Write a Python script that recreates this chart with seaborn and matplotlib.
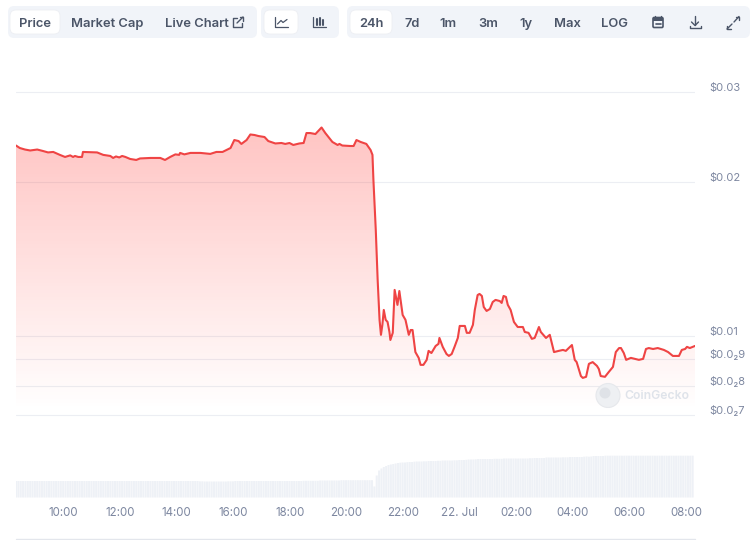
import numpy as np
import matplotlib
matplotlib.use("Agg")
import matplotlib.pyplot as plt
import seaborn as sns
from matplotlib.patches import FancyBboxPatch, Circle, Rectangle
from matplotlib.lines import Line2D
from matplotlib.transforms import ScaledTranslation

# minutes since 08:19 on 21 Jul
price_minutes = [
    0, 8, 19, 30, 45, 57, 68, 79, 93, 104, 115, 121, 125, 132, 140, 142, 172, 185, 200, 206,
    212, 219, 225, 232, 242, 255, 263, 285, 306, 316, 327, 338, 346, 348, 357, 370, 391, 412, 425, 438,
    455, 463, 472, 478, 489, 497, 506, 514, 527, 535, 550, 563, 571, 580, 588, 601, 610, 616, 624, 635,
    641, 648, 656, 671, 682, 686, 692, 709, 716, 722, 731, 743, 752, 756, 758, 763, 767, 771, 774, 777,
    780, 784, 788, 792, 794, 799, 803, 809, 813, 820, 826, 833, 837, 841, 847, 854, 858, 864, 871, 875,
    881, 890, 896, 898, 905, 913, 918, 924, 930, 937, 941, 952, 956, 962, 969, 973, 979, 983, 988, 992,
    998, 1005, 1011, 1017, 1026, 1030, 1034, 1039, 1043, 1049, 1056, 1064, 1075, 1079, 1087, 1094, 1100, 1109, 1113, 1124,
    1132, 1141, 1151, 1160, 1166, 1177, 1179, 1185, 1189, 1198, 1202, 1209, 1215, 1223, 1232, 1236, 1240, 1249, 1257, 1266,
    1272, 1279, 1283, 1289, 1294, 1304, 1321, 1330, 1336, 1342, 1351, 1361, 1374, 1383, 1393, 1406, 1412, 1419, 1423, 1429,
    1440,
]
price_usd = [
    .02355, .02329, .02313, .02303, .02313, .02298, .02283, .02288, .02258, .02237, .02253, .02237, .02247, .02237, .02237, .02288, .02283, .02258, .02247, .02227,
    .02242, .02232, .02247, .02237, .02217, .02207, .02222, .02227, .02227, .02207, .02237, .02263, .02258, .02278, .02263, .02278, .02278, .02268, .02288, .02288,
    .02329, .02414, .02403, .02372, .02414, .02475, .02469, .02458, .02447, .02403, .02377, .02382, .02372, .02382, .02361, .02377, .02382, .02491, .02491, .02480,
    .02514, .02554, .02491, .02393, .02361, .02372, .02355, .02350, .02350, .02414, .02393, .02372, .02308, .02258, .02018, .01611, .01286, .01075, .01005, .01051,
    .01124, .01075, .01065, .01018, .00982, .01014, .01230, .01150, .01224, .01099, .01075, .01005, .01027, .01027, .00930, .00906, .00878, .00878, .00898, .00935,
    .00926, .00956, .00965, .00991, .00952, .00922, .00914, .00922, .00952, .00991, .01046, .01046, .01014, .01014, .01051, .01124, .01202, .01208, .01197, .01139,
    .01119, .01129, .01165, .01176, .01170, .01160, .01197, .01192, .01150, .01124, .01065, .01041, .01041, .01018, .01014, .00987, .00991, .01041, .01018, .00991,
    .01005, .00930, .00935, .00939, .00935, .00956, .00960, .00898, .00889, .00835, .00828, .00832, .00882, .00889, .00874, .00862, .00835, .00832, .00850, .00870,
    .00930, .00947, .00947, .00926, .00898, .00906, .00898, .00902, .00943, .00947, .00943, .00947, .00939, .00930, .00914, .00914, .00939, .00943, .00952, .00947,
    .00956,
]

# one bar every 5 minutes, arbitrary units
volume = [
    16.5, 16.5, 16.5, 16.5, 16.5, 16.5, 16.5, 16.5, 16.5, 16.5, 16.5, 16.5,
    16.5, 16.5, 16.5, 16.5, 16.5, 16.5, 16.5, 16.5, 16.5, 16.5, 16.5, 16.5,
    16.5, 16.5, 16.5, 16.5, 16.5, 16.5, 16.5, 16.5, 16.5, 16.5, 16.5, 16.5,
    16.5, 16.5, 16.5, 16.5, 16.5, 16.5, 16.5, 16.5, 16.5, 16.5, 16.5, 16.5,
    16.5, 16.5, 16.5, 16.5, 16.5, 16.5, 16.5, 16.5, 16.5, 16.5, 16.5, 16.5,
    16.5, 16.5, 16.5, 16.5, 16.5, 16.5, 16.5, 16.5, 16.5, 16.5, 16.5, 16.5,
    16.5, 16.5, 16.5, 16.5, 16.5, 16.5, 16.2, 16.2, 16.0, 16.0, 16.0, 16.0,
    16.0, 16.0, 16.0, 16.0, 16.0, 16.0, 16.2, 16.2, 16.2, 16.5, 16.5, 16.5,
    16.5, 16.5, 16.5, 16.5, 16.5, 16.5, 16.5, 16.5, 16.5, 16.5, 16.5, 16.5,
    16.5, 16.5, 16.5, 16.5, 16.5, 16.5, 16.5, 16.5, 16.5, 16.5, 16.5, 16.5,
    16.5, 16.5, 16.7, 16.7, 16.7, 16.7, 16.7, 16.7, 16.7, 17.0, 17.0, 17.0,
    17.0, 17.0, 17.0, 17.0, 17.0, 17.0, 17.3, 17.3, 17.3, 17.3, 17.3, 17.3,
    17.3, 17.3, 17.3, 17.3, 17.3, 17.3, 17.3, 17.3, 11.0, 22.0, 27.0, 29.0,
    30.5, 31.5, 32.5, 33.0, 33.5, 34.0, 34.5, 34.8, 35.0, 35.0, 35.3, 35.5,
    35.5, 35.8, 36.0, 36.0, 36.0, 36.2, 36.2, 36.5, 36.5, 36.5, 36.5, 36.7,
    36.7, 37.0, 37.0, 37.0, 37.0, 37.0, 37.2, 37.2, 37.5, 37.5, 37.5, 37.7,
    38.0, 38.0, 38.0, 38.2, 38.5, 38.5, 38.5, 38.5, 38.5, 38.5, 38.5, 38.7,
    38.7, 38.7, 38.7, 39.0, 39.0, 39.0, 39.0, 39.0, 39.0, 39.0, 39.0, 39.0,
    39.0, 39.0, 39.3, 39.3, 39.5, 39.5, 39.5, 39.5, 39.5, 40.0, 40.0, 40.0,
    40.0, 40.0, 40.0, 40.0, 40.2, 40.2, 40.2, 40.5, 40.5, 40.5, 40.5, 40.5,
    40.5, 40.8, 41.0, 40.8, 41.0, 41.5, 41.5, 41.5, 41.5, 41.5, 41.8, 41.8,
    41.8, 41.8, 41.8, 41.8, 41.8, 41.8, 41.8, 41.8, 41.8, 41.8, 41.8, 41.8,
    41.8, 41.8, 41.8, 41.8, 41.8, 41.8, 41.8, 41.8, 41.8, 41.8, 41.8, 41.8,
    41.8, 41.8, 41.8, 41.8, 41.8, 41.8, 41.8, 41.8, 41.8, 41.8, 41.8, 41.8,
]
volume_minutes = np.arange(len(volume)) * 5

y_ticks = [0.03, 0.02, 0.01, 0.009, 0.008, 0.007]
y_labels = ["$0.03", "$0.02", "$0.01", "$0.0\u20829", "$0.0\u20828", "$0.0\u20827"]
x_ticks = [101, 221, 341, 461, 581, 701, 821, 941, 1061, 1181, 1301, 1421]
x_labels = ["10:00", "12:00", "14:00", "16:00", "18:00", "20:00", "22:00", "22. Jul",
            "02:00", "04:00", "06:00", "08:00"]

RED = "#ef4444"
TXT = "#4b5568"
AXIS_TXT = "#7d87a0"
GRID = "#eceef3"

sns.set_style("white")
plt.rcParams["font.family"] = ["Inter", "DejaVu Sans"]

fig = plt.figure(figsize=(7.5, 5.4), dpi=100)
ax = fig.add_axes([16 / 750, 110 / 540, 679 / 750, 370 / 540])
ax_vol = fig.add_axes([16 / 750, 42.5 / 540, 679 / 750, 47.5 / 540])
ui = fig.add_axes([0, 0, 1, 1], zorder=5)
ui.set_xlim(0, 750)
ui.set_ylim(540, 0)
ui.axis("off")

# price line
sns.lineplot(x=price_minutes, y=price_usd, color=RED, linewidth=1.5, ax=ax, zorder=4)
ax.set_yscale("log")
ax.set_xlim(0, 1440)
ax.set_ylim(0.00655, 0.0346)

# gradient under the line
under = ax.fill_between(price_minutes, price_usd, 0.00695, color="none")
alpha = np.clip(0.39 * (np.linspace(1, 0, 300) - 0.054) / 0.946, 0, 1)
rgba = np.ones((300, 1, 4))
rgba[:, :, :3] = (1.0, 0.27, 0.25)
rgba[:, 0, 3] = alpha
im = ax.imshow(rgba, extent=(0, 1, 0, 1), transform=ax.transAxes, aspect="auto", zorder=2)
im.set_clip_path(under.get_paths()[0], transform=ax.transData)
ax.set_xlim(0, 1440)
ax.set_ylim(0.00655, 0.0346)

ax.set_yticks(y_ticks, y_labels)
ax.yaxis.set_minor_locator(matplotlib.ticker.NullLocator())
ax.yaxis.tick_right()
ax.tick_params(axis="y", length=0, pad=10.6, labelsize=8.0, labelcolor=AXIS_TXT)
for lab in ax.get_yticklabels():
    lab.set_va("baseline")
    lab.set_transform(lab.get_transform() + ScaledTranslation(0, 1 / 100, fig.dpi_scale_trans))
ax.set_xticks([])
ax.grid(axis="y", color=GRID, linewidth=0.8)
ax.set_axisbelow(True)
sns.despine(ax=ax, left=True, right=True, top=True, bottom=True)
ax.set_xlabel("")

# volume bars
sns.barplot(x=volume_minutes, y=volume, native_scale=True, color="#eef1f6", saturation=1,
            width=0.85, ax=ax_vol)
for bar in ax_vol.patches:
    bar.set_snap(False)
    bar.set_linewidth(0)
ax_vol.set_xlim(0, 1440)
ax_vol.set_ylim(0, 47.5)
ax_vol.set_yticks([])
ax_vol.set_xticks(x_ticks, x_labels)
ax_vol.tick_params(axis="x", length=3, width=0.7, color=GRID, pad=3.5, labelsize=8.3, labelcolor=AXIS_TXT)
sns.despine(ax=ax_vol, left=True, right=True, top=True, bottom=True)

# bottom rule
ui.add_line(Line2D([16, 695], [539, 539], color="#e3e6ec", lw=1))


# toolbar
def box(x0, y0, x1, y1, fc, r=6, ec="none"):
    ui.add_patch(FancyBboxPatch((x0 + r, y0 + r), x1 - x0 - 2 * r, y1 - y0 - 2 * r,
                                boxstyle=f"round,pad={r},rounding_size={r}", fc=fc, ec=ec, lw=0.6))


def seg(xs, ys, lw=1.0):
    ui.add_line(Line2D(xs, ys, color=TXT, lw=lw, solid_capstyle="round", solid_joinstyle="round"))


box(8, 6, 257, 38, "#f1f4f9")
box(261, 6, 339, 38, "#f1f4f9")
box(347, 6, 750, 38, "#f1f4f9")
box(10, 10, 60, 34, "white", ec="#edeff3")
box(264, 10, 298, 34, "white", ec="#edeff3")
box(350, 10, 392, 34, "white", ec="#edeff3")

buttons = [("Price", 35), ("Market Cap", 107.5), ("24h", 371), ("7d", 412), ("1m", 448),
           ("3m", 488), ("1y", 526), ("Max", 567), ("LOG", 615)]
for label, cx in buttons:
    ui.text(cx, 27, label, ha="center", va="baseline", fontsize=9.3, fontweight="semibold", color=TXT)
ui.text(165, 27, "Live Chart", ha="left", va="baseline", fontsize=9.3, fontweight="semibold", color=TXT)

# external link icon
seg([237, 233, 233, 242, 242], [18, 18, 27, 27, 23])
seg([237, 243], [23, 17])
seg([239.5, 243, 243], [17, 17, 20.5])
# line chart icon
seg([275, 275, 288], [17, 27, 27], lw=0.9)
seg([277.5, 281, 283, 287], [24, 20.5, 22.5, 19.5], lw=0.9)
# candles icon
seg([313, 313, 326], [17, 27, 27], lw=0.9)
for cx, y0, y1 in [(316.5, 19, 25), (319.5, 17.5, 24.5), (322.5, 19.5, 24.5)]:
    seg([cx, cx], [y0, y1], lw=1.5)
# calendar
ui.add_patch(FancyBboxPatch((653.5, 18), 9, 9, boxstyle="round,pad=0.5,rounding_size=1.2",
                            fc="none", ec=TXT, lw=1.2))
ui.add_patch(Rectangle((653, 17.5), 10, 3, fc=TXT, ec="none"))
seg([655.5, 660.5], [23.5, 23.5], lw=1.2)
seg([655, 655], [16, 18])
seg([661, 661], [16, 18])
# download
seg([695, 695], [16, 25])
seg([691.5, 695, 698.5], [22, 25.5, 22])
seg([689.5, 689.5, 700.5, 700.5], [25.5, 28, 28, 25.5])
# expand
seg([727, 732], [29, 24])
seg([727, 727, 730.5], [25.5, 29, 29])
seg([734, 739], [22, 16.5])
seg([735.5, 739, 739], [16.5, 16.5, 20])

# watermark
ui.add_patch(Circle((608, 395.5), 12, fc="#eef0f3", ec="#e6e8ec", lw=0.8))
ui.add_patch(Circle((605, 393), 5.5, fc="#dfe2e7", ec="none"))
ui.text(624, 399, "CoinGecko", ha="left", va="baseline", fontsize=8.8, fontweight="semibold", color="#dfe3ea")

fig.savefig("out.png", dpi=100)
